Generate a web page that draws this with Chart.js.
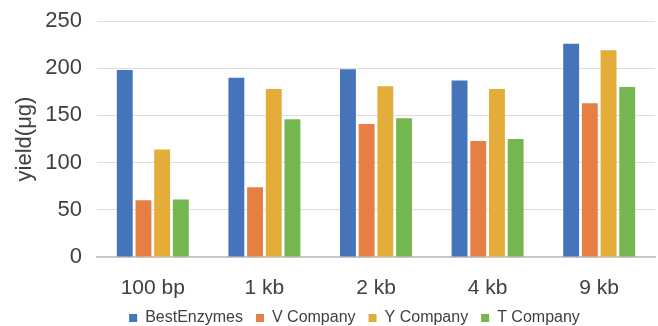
<!DOCTYPE html>
<html>
<head>
<meta charset="utf-8">
<script src="https://cdn.jsdelivr.net/npm/chart.js@4/dist/chart.umd.min.js"></script>
<style>
  html, body { margin: 0; padding: 0; background: #ffffff; }
  #wrap { width: 658px; height: 326px; }
</style>
</head>
<body>
<div id="wrap"><canvas id="c" width="658" height="326"></canvas></div>
<script>
// Plasmid yield by fragment size for four enzyme suppliers
const categories = ['100 bp', '1 kb', '2 kb', '4 kb', '9 kb'];
const bestEnzymes = [198, 190, 199, 187, 226];
const vCompany    = [60, 74, 141, 123, 163];
const yCompany    = [114, 178, 181, 178, 219];
const tCompany    = [61, 146, 147, 125, 180];
const yTicks      = [0, 50, 100, 150, 200, 250];

const seriesNames  = ['BestEnzymes', 'V Company', 'Y Company', 'T Company'];
const seriesValues = [bestEnzymes, vCompany, yCompany, tCompany];
const seriesColors = ['#4674BB', '#E67F43', '#E4AC39', '#74B650'];

const FONT = '"Liberation Sans", Arial, sans-serif';
const TEXT = '#404040';
const LEGEND_PAD = 13;
const LEGEND_FONT = 16;

// keeps the legend band short and places its row under the plot
const legendPlacement = {
  id: 'legendPlacement',
  beforeLayout(chart) {
    const lg = chart.legend;
    if (!lg || lg._fixedFit) return;
    const fit = lg.fit;
    lg.fit = function () {
      fit.call(this);
      this.height = 21;
    };
    lg._fixedFit = true;
  },
  afterLayout(chart) {
    const lg = chart.legend;
    if (!lg) return;
    const dx = 27;
    lg.left += dx; lg.right += dx;
    lg.top = 318 - LEGEND_PAD - LEGEND_FONT / 2;
    lg.bottom = lg.top + 40;
    (lg.legendHitBoxes || []).forEach(b => { b.left += dx; });
  }
};

new Chart(document.getElementById('c'), {
  type: 'bar',
  data: {
    labels: categories,
    datasets: seriesNames.map((name, i) => ({
      label: name,
      data: seriesValues[i],
      backgroundColor: seriesColors[i],
      borderWidth: 0,
      categoryPercentage: 0.67,
      barPercentage: 0.85
    }))
  },
  options: {
    responsive: false,
    animation: false,
    devicePixelRatio: 1,
    layout: { padding: { top: 21, right: 3, left: 0, bottom: 0 } },
    plugins: {
      tooltip: { enabled: false },
      legend: {
        position: 'bottom',
        labels: {
          boxWidth: 8,
          boxHeight: 8,
          padding: LEGEND_PAD,
          color: TEXT,
          font: { family: FONT, size: LEGEND_FONT }
        }
      }
    },
    scales: {
      x: {
        afterFit(scale) { scale.height = 48; },
        grid: { display: false },
        border: { display: true, color: '#C8C8C8', width: 2 },
        ticks: {
          color: TEXT,
          padding: 11,
          font: { family: FONT, size: 21 }
        }
      },
      y: {
        min: 0,
        max: 250,
        afterBuildTicks(scale) {
          scale.ticks = yTicks.map(v => ({ value: v }));
        },
        afterFit(scale) {
          scale.width = 97;
          scale.paddingTop = 0;
          scale.paddingBottom = 0;
        },
        grid: { color: '#DDDDDD', lineWidth: 1, drawTicks: false },
        border: { display: false },
        ticks: {
          color: TEXT,
          padding: 15,
          font: { family: FONT, size: 22 }
        },
        title: {
          display: true,
          text: 'yield(μg)',
          color: TEXT,
          padding: { top: 12, bottom: 0 },
          font: { family: FONT, size: 22 }
        }
      }
    }
  },
  plugins: [legendPlacement]
});
</script>
</body>
</html>
